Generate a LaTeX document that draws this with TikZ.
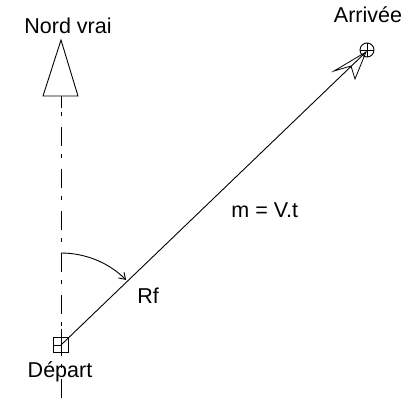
\documentclass[tikz,border=0pt]{standalone}
\usepackage{fontspec}
\setmainfont{Liberation Sans}
\usetikzlibrary{arrows.meta}
\begin{document}
\begin{tikzpicture}[x=1pt,y=1pt,line width=0.9pt,
  lbl/.style={inner sep=0pt,anchor=base,font=\fontsize{21.5}{25}\selectfont},
  axisline/.style={dash pattern=on 4pt off 11pt on 19pt off 8pt},
  depbox/.style={draw,minimum size=15pt,inner sep=0pt},
  arrcirc/.style={draw,circle,minimum size=14pt,inner sep=0pt}]
\useasboundingbox (0,0) rectangle (410,400);
% north arrow
\coordinate (apex) at (61,360);
\coordinate (stemtop) at (61,304);
\coordinate (stembot) at (61,292);
\coordinate (axisend) at (61,0);
\draw (apex) -- (43,304) -- (78,304) -- cycle;
\draw (stemtop) -- (stembot);
\draw[axisline] (stembot) ++(0,-4) -- (axisend);
\node[lbl] (nord) at (68,366) {Nord vrai};
% depart
\node[depbox] (dep) at (61,55) {};
\draw (dep.center) ++(-7.5,0) -- ++(7.5,0);
\draw (dep.north) -- ++(0,8);
\node[lbl] (deptxt) at (60,23) {Départ};
% arrivee
\node[arrcirc] (arr) at (367,350) {};
\draw (arr.north) -- (arr.south);
\draw (arr.west) -- (arr.east);
\node[lbl] (arrtxt) at (368,377) {Arrivée};
% route
\coordinate (tip) at (366,348);
\draw (dep.center) -- (tip);
\draw[line width=0.8pt] (tip) -- (334,329) -- (351,334) -- (355,321) -- cycle;
% angle arc
\draw[-{Straight Barb[length=6pt,width=8pt]}] (61,147) arc[start angle=90,end angle=45,radius=92];
\node[lbl,anchor=base west] (rf) at (137,97) {Rf};
\node[lbl,anchor=base west] (m) at (231,183) {m = V.t};
\end{tikzpicture}
\end{document}
